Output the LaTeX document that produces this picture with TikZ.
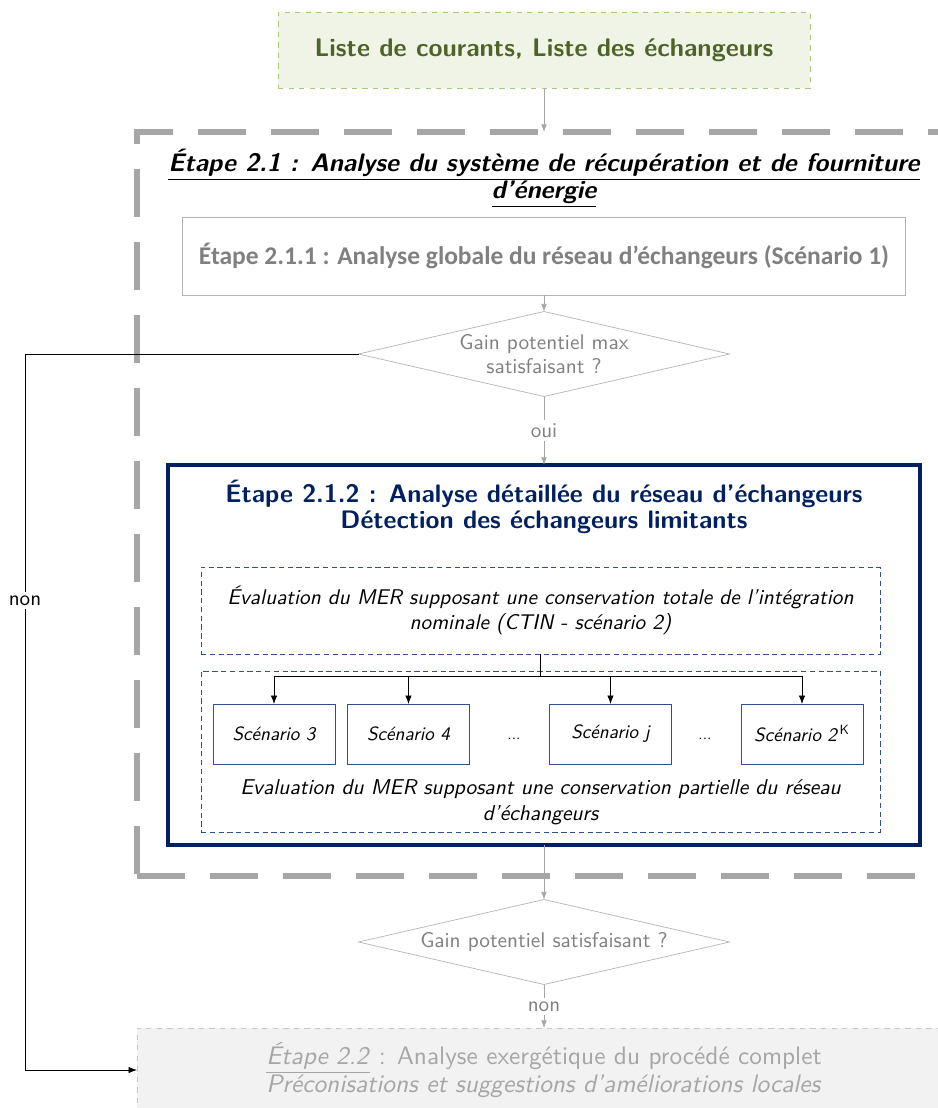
\documentclass[tikz,border=0pt]{standalone}
\usepackage{fontspec}
\usepackage{tikz}
\usetikzlibrary{shapes.geometric}
\usetikzlibrary{arrows.meta}
\usetikzlibrary{positioning}
\setsansfont{lmsans10-regular.otf}[
  BoldFont = lmsans10-bold.otf,
  ItalicFont = lmsans10-oblique.otf,
  BoldItalicFont = lmsans10-boldoblique.otf]
\newfontfamily\calibri{Carlito}
\renewcommand{\familydefault}{\sfdefault}
\definecolor{vertfond}{HTML}{EFF4E6}
\definecolor{vertbord}{HTML}{A9C878}
\definecolor{vertfonce}{HTML}{4F6228}
\definecolor{grisbord}{HTML}{A6A6A6}
\definecolor{grisclair}{HTML}{B4B4B4}
\definecolor{gristexte}{HTML}{808080}
\definecolor{grisfond}{HTML}{F2F2F2}
\definecolor{grispale}{HTML}{C8C8C8}
\definecolor{bleufonce}{HTML}{002060}
\definecolor{bleutiret}{HTML}{2F4F8F}
\tikzset{
% Define standard arrow tip
>={Latex[scale=1.0]},
scenario/.style={rectangle, draw=bleutiret, minimum width=2.44cm, minimum height=1.2cm, font=\itshape\fontsize{10.9}{12}\selectfont},
test/.style={diamond, draw=grisclair, aspect=4.36, minimum width=7.42cm, minimum height=1.7cm, align=center, text=gristexte, font=\fontsize{12.1}{13.6}\selectfont},
fleche/.style={->, draw=grisbord, >={Latex[scale=0.9]}},
etiquette/.style={fill=white, inner sep=2pt, font=\fontsize{12}{13}\selectfont}
}

\begin{document}
\begin{tikzpicture}[inner sep=0, outer sep=0]
  \useasboundingbox (0,0) rectangle (18.76,-22.16);
  \clip (0,0) rectangle (18.76,-22.16);

  \node[rectangle, draw=vertbord, dashed,
    minimum width = 10.64cm,
    minimum height = 1.52cm,
    fill = vertfond, text = vertfonce,
    font = \bfseries\fontsize{14.5}{16}\selectfont] (listes) at (10.88, -1.0) {Liste de courants, Liste des échangeurs};

  % cadre etape 2.1
  \node[rectangle, draw=grisbord,
    line width = 0.12cm,
    dash pattern = on 0.96cm off 0.5cm,
    minimum width = 16.28cm,
    minimum height = 14.88cm] (etape21) at (10.88, -10.08) {};
  \node[align=center, font=\bfseries\itshape\fontsize{14.4}{15.3}\selectfont] (titre21) at (10.88, -3.56)
    {\underline{Étape 2.1 : Analyse du système de récupération et de fourniture}\\\underline{d’énergie}};

  \node[rectangle, draw=grisclair,
    minimum width = 14.46cm,
    minimum height = 1.56cm,
    text = gristexte,
    font = \calibri\bfseries\fontsize{14.5}{16}\selectfont] (etape211) at (10.88, -5.12) {Étape 2.1.1 : Analyse globale du réseau d’échangeurs (Scénario 1)};

  \node[test] (test1) at (10.88, -7.08) {Gain potentiel max\\satisfaisant ?};

  % cadre etape 2.1.2
  \node[rectangle, draw=bleufonce,
    line width = 0.08cm,
    minimum width = 15.04cm,
    minimum height = 7.6cm] (etape212) at (10.88, -13.1) {};
  \node[align=center, text=bleufonce, font=\bfseries\fontsize{14.4}{14.5}\selectfont] (titre212) at (10.88, -10.14)
    {Étape 2.1.2 : Analyse détaillée du réseau d’échangeurs\\Détection des échangeurs limitants};

  \node[rectangle, draw=bleutiret, densely dashed,
    align = center,
    minimum width = 13.58cm,
    minimum height = 1.74cm,
    font = \itshape\fontsize{12.1}{14.7}\selectfont] (ctin) at (10.81, -12.21)
    {Évaluation du MER supposant une conservation totale de l’intégration\\nominale (CTIN - scénario 2)};

  \node[rectangle, draw=bleutiret, densely dashed,
    minimum width = 13.58cm,
    minimum height = 3.22cm] (partiel) at (10.81, -15.03) {};
  \node[align=center, font=\itshape\fontsize{12.2}{14.7}\selectfont] (partieltexte) at (10.81, -16.04)
    {Evaluation du MER supposant une conservation partielle du réseau\\d’échangeurs};

  \node[scenario] (sc3) at (5.48, -14.68) {Scénario 3};
  \node[scenario] (sc4) at (8.17, -14.68) {Scénario 4};
  \node (pts1) at (10.28, -14.78) {\small ...};
  \node[scenario] (scj) at (12.21, -14.68) {Scénario j};
  \node (pts2) at (14.10, -14.78) {\small ...};
  \node[scenario] (scK) at (16.04, -14.68) {Scénario 2\kern1.5pt\textsuperscript{\upshape K}};

  \coordinate (branche) at (10.81, -13.52);
  \draw (ctin.south) -- (branche);
  \draw (branche -| sc3.north) -- (branche -| scK.north);
  \foreach \sc in {sc3, sc4, scj, scK}
    \draw[->] (branche -| \sc.north) -- (\sc.north);

  \node[test] (test2) at (10.88, -18.84) {Gain potentiel satisfaisant ?};

  \node[rectangle, draw=grispale, dashed,
    align = center,
    minimum width = 16.28cm,
    minimum height = 1.68cm,
    fill = grisfond, text = grisbord,
    font = \fontsize{14.4}{14.5}\selectfont] (etape22) at (10.88, -21.4)
    {\underline{\textit{Étape 2.2}} : Analyse exergétique du procédé complet\\\textit{Préconisations et suggestions d’améliorations locales}};

  \draw[fleche] (listes.south) -- (etape21.north);
  \draw[fleche] (etape211.south) -- (test1.north);
  \draw[fleche] (test1.south) -- node[etiquette, text=gristexte]{oui} (etape212.north);
  \draw[fleche] (etape212.south) -- (test2.north);
  \draw[fleche] (test2.south) -- node[etiquette, text=gristexte]{non} (etape22.north);

  \coordinate (coude) at (0.5, -7.08);
  \draw[->] (test1.west) -- (coude) |- node[etiquette, pos=0.172]{non} (etape22.west);
\end{tikzpicture}
\end{document}
